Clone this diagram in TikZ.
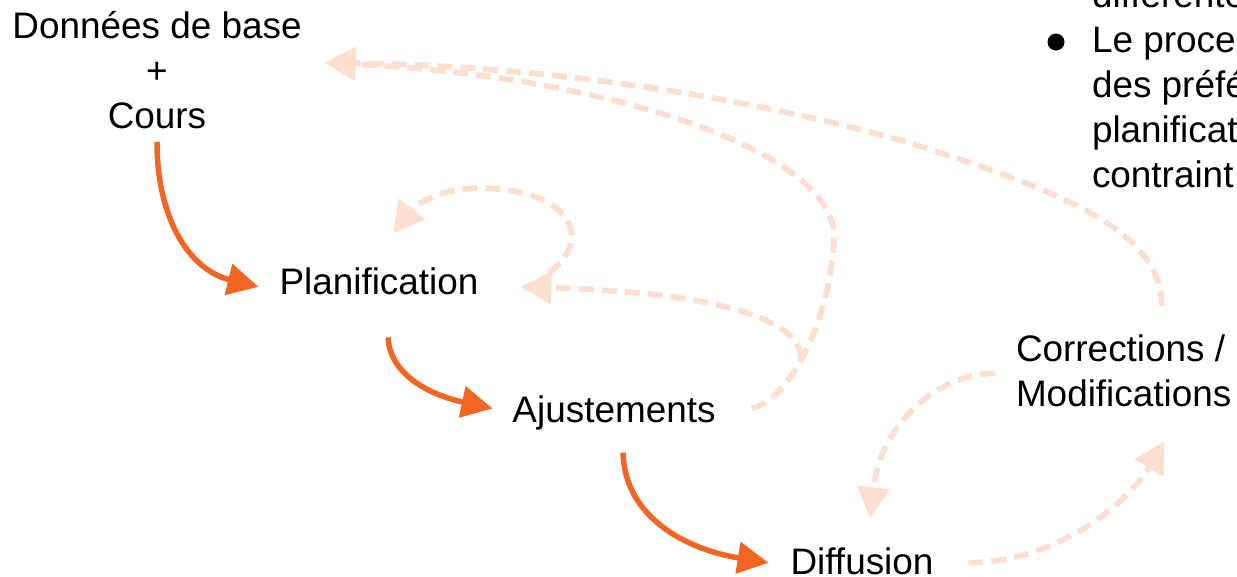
\documentclass[tikz,border=0pt]{standalone}
\usepackage{fontspec}
\setmainfont{Liberation Sans}
\usetikzlibrary{arrows.meta,calc}
\definecolor{flow}{RGB}{242,101,34}
\definecolor{back}{RGB}{253,223,207}
\begin{document}
\begin{tikzpicture}[x=0.02cm, y=-0.02cm, line join=round,
  font=\fontsize{21}{25.7}\selectfont,
  txt/.style={inner sep=0pt, outer sep=0pt},
  flowarrow/.style={draw=flow, line width=0.11cm, -{Triangle[length=0.62cm,width=0.62cm]}},
  backarrow/.style={draw=back, line width=0.115cm, dash pattern=on 0.3cm off 0.16cm, -{Triangle[length=0.62cm,width=0.64cm]}}]
\useasboundingbox (0,0) rectangle (1237,576);
\clip (0,0) rectangle (1237,576);
% the steps
\node[txt, anchor=north, align=center] (base) at (157,11) {Données de base\\+\\Cours};
\node[txt, anchor=base] (plan) at (379,294) {Planification};
\node[txt, anchor=base] (ajust) at (614,422) {Ajustements};
\node[txt, anchor=base] (diff) at (862,574) {Diffusion};
\node[txt, anchor=north west, align=left] (corr) at (1016,335) {Corrections /\\Modifications};
% bullet list, cut by the frame
\fill (1056,42) circle (0.17cm) coordinate (dot);
\node[txt, anchor=north west, align=left] (notes) at (1092,-20) {différente\\Le proce\\des préfé\\planificat\\contraint};
% main flow
\draw[flowarrow] ($(base.south)+(0,13)$) .. controls (157,220) and (190,270) .. ($(plan.west)+(-21,6)$);
\draw[flowarrow] ($(plan.south)+(9,43)$) .. controls (390,375) and (430,395) .. ($(ajust.west)+(-20,-4)$);
\draw[flowarrow] ($(ajust.south)+(9,23)$) .. controls (625,520) and (690,550) .. ($(diff.west)+(-22,2)$);
% feedback
\draw[backarrow] ($(diff.east)+(35,2)$) .. controls (1060,562) and (1130,500) .. ($(corr.south)+(41,34)$);
\draw[backarrow] ($(corr.west)+(-21,2)$) .. controls (930,375) and (880,430) .. ($(diff.north)+(8,-29)$);
\draw[backarrow] ($(corr.north)+(38,-29)$) .. controls (1162,230) and (1060,190) .. (900,140)
  .. controls (700,85) and (500,65) .. ($(base.east)+(23,-7)$);
\draw[backarrow] ($(ajust.east)+(36,-4)$) .. controls (790,400) and (830,320) .. (834,240)
  .. controls (840,150) and (600,75) .. ($(base.east)+(23,-7)$);
\coordinate (branch) at (801,358);
\draw[backarrow] (branch) .. controls (800,315) and (700,292) .. ($(plan.east)+(42,6)$);
\draw[backarrow] ($(plan.east)+(70,-8)$) .. controls (590,245) and (580,190) .. (480,188)
  .. controls (440,188) and (415,205) .. ($(plan.north)+(14,-34)$);
\end{tikzpicture}
\end{document}
